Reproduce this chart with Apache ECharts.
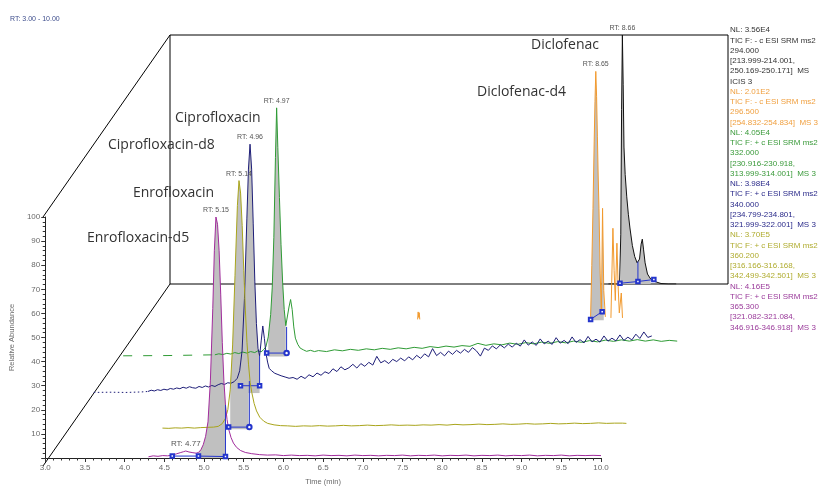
<!DOCTYPE html>
<html lang="en">
<head>
<meta charset="UTF-8">
<title>SRM chromatograms</title>
<script src="https://cdn.jsdelivr.net/npm/echarts/dist/echarts.min.js"></script>
<style>
    html, body { margin: 0; padding: 0; background: #fff; }
    #main { width: 819px; height: 491px; }
</style>
</head>
<body>
<div id="main"></div>
<script>
// ---- data (time in min, relative abundance in %) ----
// Diclofenac 294.000
var diclo = [[8.50,0],[8.60,0],[8.64,0.3],[8.655,20],[8.665,70],[8.675,100],[8.685,80],[8.695,55],[8.71,44],[8.73,35],[8.75,28],[8.77,22.5],[8.80,15.5],[8.83,11],[8.86,8.5],[8.89,10],[8.91,16],[8.925,18],[8.94,14],[8.96,8.5],[8.99,4],[9.03,2],[9.08,1],[9.16,0.2],[9.25,0],[9.35,0]];
// Diclofenac-d4 296.500 (only the non-zero stretches are drawn)
var dicloD4Blip = [[6.425,0.4],[6.432,3.4],[6.438,1.2],[6.445,3.1],[6.452,0.4]];
var dicloD4Main = [[8.58,0.6],[8.595,1.5],[8.61,22],[8.625,45],[8.64,72],[8.65,88],[8.66,100],[8.67,90],[8.68,74],[8.69,58],[8.70,45],[8.715,19],[8.73,3],[8.745,45],[8.76,12],[8.78,1.4]];
var dicloD4Tail = [[8.85,1.0],[8.875,37],[8.89,20],[8.905,8],[8.925,31],[8.94,14],[8.955,3],[8.98,11],[8.995,1.0]];
// Ciprofloxacin 332.000
var ciproLead = [[3.05,0.4],[3.60,0.5],[4.20,0.8]];
var cipro = [[4.20,0.8],[4.25,1.2],[4.30,0.9],[4.35,1.4],[4.40,1.1],[4.45,1.7],[4.50,1.3],[4.55,1.9],[4.60,1.5],[4.65,2.1],[4.70,1.7],[4.74,2.4],[4.78,2.0],[4.81,2.8],[4.84,4],[4.87,8],[4.90,17],[4.92,28],[4.94,48],[4.96,80],[4.975,100],[4.99,84],[5.01,64],[5.03,45],[5.05,30],[5.07,19],[5.09,12.5],[5.11,12],[5.13,20],[5.15,23],[5.17,19],[5.19,12],[5.21,7.5],[5.24,5],[5.27,3.5],[5.31,2.8],[5.35,2.2],[5.40,2.6],[5.45,2.1],[5.50,2.5],
    [5.60,2.1],[5.70,2.8],[5.80,2.4],[5.90,3.0],[6.00,2.6],[6.10,3.2],[6.20,2.8],[6.30,3.4],[6.40,3.0],[6.50,3.6],[6.60,3.2],[6.70,3.8],[6.80,3.4],[6.90,4.1],[7.00,3.7],[7.10,4.3],[7.20,3.9],[7.30,4.5],[7.40,4.2],[7.50,5.4],[7.60,4.6],[7.70,5.2],[7.80,4.8],[7.90,5.5],[8.00,5.0],[8.10,5.7],[8.20,5.2],[8.30,5.9],[8.40,5.4],[8.50,6.1],[8.60,5.6],[8.70,6.3],[8.80,5.8],[8.90,6.5],[9.00,6.0],[9.10,6.7],[9.20,6.2],[9.30,6.8],[9.40,6.3],[9.50,6.9],[9.60,6.3],[9.70,6.8],[9.80,6.2],[9.90,6.6],[10.00,6.3]];
// Ciprofloxacin-d8 340.000
var ciproD8Lead = [[3.00,0.3],[3.20,0.4],[3.40,0.3],[3.60,0.5],[3.68,0.7]];
var ciproD8 = [[3.68,0.7],[3.72,1.2],[3.76,0.9],[3.80,1.4],[3.84,1.1],[3.88,1.6],[3.92,1.3],[3.96,1.9],[4.00,1.6],[4.04,2.1],[4.08,1.8],[4.12,2.4],[4.16,2.0],[4.20,2.6],[4.24,2.2],[4.28,2.0],[4.32,2.7],[4.36,2.3],[4.40,2.9],[4.44,2.5],[4.48,3.1],[4.52,2.7],[4.56,3.4],[4.60,3.9],[4.64,3.5],[4.68,4.2],[4.72,4.0],[4.76,4.6],[4.80,6],[4.83,9],[4.86,17],[4.89,38],[4.92,70],[4.94,90],[4.96,100],[4.98,90],[5.00,68],[5.02,45],[5.04,28],[5.06,18],[5.08,15],[5.10,21],[5.12,27],[5.14,22],[5.16,16],[5.18,12.5],[5.20,10],[5.23,9],[5.27,8],[5.31,7.5],[5.35,7],[5.40,6.5],[5.45,6.0],
    [5.50,6.3],[5.55,5.6],[5.60,6.8],[5.65,5.9],[5.70,7.4],[5.75,6.6],[5.80,8.1],[5.85,7.2],[5.90,8.6],[5.95,7.9],[6.00,9.8],[6.05,8.7],[6.10,10.6],[6.15,9.4],[6.20,10.2],[6.25,11.6],[6.30,10.1],[6.35,11.9],[6.40,10.8],[6.45,12.4],[6.50,11.3],[6.55,14.8],[6.60,12.2],[6.65,13.1],[6.70,11.9],[6.75,13.6],[6.80,12.7],[6.85,14.1],[6.90,13.0],[6.95,14.6],[7.00,13.4],[7.05,15.2],[7.10,14.0],[7.15,15.8],[7.20,14.6],[7.25,17.9],[7.30,15.1],[7.35,16.4],[7.40,15.0],[7.45,16.9],[7.50,15.6],[7.55,17.2],[7.60,16.1],[7.65,17.6],[7.70,16.4],[7.75,18.3],[7.80,17.0],[7.85,14.9],[7.90,18.1],[7.95,17.2],[8.00,19.0],[8.05,17.8],[8.10,19.4],[8.15,18.2],[8.20,19.7],[8.25,18.5],[8.30,20.1],[8.35,18.9],[8.40,21.4],[8.45,19.3],[8.50,20.6],[8.55,19.2],[8.60,21.8],[8.65,19.8],[8.70,20.9],[8.75,19.6],[8.80,22.3],[8.85,20.1],[8.90,21.2],[8.95,19.9],[9.00,22.6],[9.05,20.4],[9.10,21.5],[9.15,20.2],[9.20,22.8],[9.25,20.6],[9.30,21.7],[9.35,20.5],[9.40,23.0],[9.45,20.9],[9.50,22.1],[9.55,21.0],[9.60,23.4],[9.65,21.2],[9.70,22.5],[9.75,21.4],[9.80,23.7],[9.85,22.0],[9.90,24.6],[9.95,22.4],[10.00,23.0]];
// Enrofloxacin 360.200
var enro = [[4.18,0.6],[4.26,0.5],[4.34,0.7],[4.42,0.6],[4.50,0.8],[4.58,0.6],[4.66,0.8],[4.74,0.9],[4.82,1.0],[4.88,1.3],[4.93,2.4],[4.97,4.5],[5.00,8],[5.03,16],[5.06,34],[5.09,62],[5.12,90],[5.14,100],[5.16,95],[5.18,82],[5.20,64],[5.22,48],[5.24,35],[5.26,26],[5.28,19],[5.30,15],[5.33,10.5],[5.36,7.5],[5.40,5],[5.45,3.4],[5.50,2.5],[5.58,1.9],[5.66,1.6],[5.75,1.5],[5.85,1.3],[5.95,1.5],[6.05,1.4],[6.15,1.6],[6.25,1.4],[6.35,1.5],[6.45,1.7],[6.55,1.5],[6.65,1.6],[6.75,1.8],[6.85,1.6],[6.95,1.7],[7.05,1.9],[7.15,1.7],[7.25,1.8],[7.35,1.7],[7.45,1.9],[7.55,1.8],[7.65,2.0],[7.75,1.8],[7.85,2.1],[7.95,1.9],[8.05,2.0],[8.15,2.2],[8.25,2.0],[8.35,2.1],[8.45,2.3],[8.55,2.1],[8.65,2.2],[8.75,2.4],[8.85,2.2],[8.95,2.3],[9.05,2.5],[9.15,2.3],[9.25,2.4],[9.35,2.6],[9.45,2.4],[9.55,2.5],[9.65,2.7],[9.75,2.5],[9.85,2.6],[9.95,2.6],[10.00,2.5]];
// Enrofloxacin-d5 365.300
var enroD5 = [[4.30,0.5],[4.36,0.9],[4.42,0.7],[4.48,1.0],[4.54,0.9],[4.60,1.2],[4.65,1.7],[4.70,2.2],[4.74,2.6],[4.77,2.9],[4.81,2.5],[4.86,2.2],[4.90,2.0],[4.93,2.3],[4.96,3.4],[4.99,5.5],[5.02,9],[5.05,15],[5.08,32],[5.11,62],[5.13,86],[5.15,100],[5.17,97],[5.19,86],[5.21,68],[5.23,48],[5.25,32],[5.27,22],[5.29,16],[5.31,12],[5.34,8.5],[5.37,6.2],[5.41,4.4],[5.46,3.1],[5.52,2.3],[5.60,1.8],[5.70,1.4],[5.80,1.2],[5.90,1.3],[6.00,1.0],[6.10,1.2],[6.20,1.0],[6.30,1.1],[6.40,0.9],[6.50,1.2],[6.60,1.0],[6.70,1.1],[6.80,0.9],[6.90,1.2],[7.00,1.0],[7.10,1.1],[7.20,0.9],[7.30,1.1],[7.40,1.0],[7.50,1.2],[7.60,0.9],[7.70,1.1],[7.80,1.0],[7.90,1.2],[8.00,0.9],[8.10,1.1],[8.20,1.0],[8.30,1.2],[8.40,0.9],[8.50,1.1],[8.60,1.0],[8.70,1.2],[8.80,0.9],[8.90,1.1],[9.00,1.0],[9.10,1.2],[9.20,0.9],[9.30,1.1],[9.40,1.0],[9.50,1.2],[9.60,0.9],[9.70,1.1],[9.80,1.0],[9.90,1.1],[10.00,1.0]];

// integration boundaries: [time, baseline level, trace level at the boundary (vertical drop) or null]
var dicloInteg = [[8.645,0.3,null],[8.87,1.0,9],[9.07,1.8,null]];
var dicloD4Integ = [[8.595,0.4,null],[8.74,3.5,null]];
var ciproInteg = [[4.85,1.5,null],[5.10,1.5,12]];
var ciproD8Integ = [[4.84,3,null],[5.08,3,15]];
var enroInteg = [[5.01,1.0,null],[5.27,1.0,19.5]];
var enroD5Integ = [[4.60,0.8,null],[4.93,0.8,null],[5.27,0.6,22]];

// grey (integrated) ranges
var dicloArea = [8.645, 9.07];
var dicloD4Area = [8.58, 8.76];
var ciproArea = [4.85, 5.10];
var ciproD8Area = [4.84, 5.08];
var enroArea = [5.01, 5.27];
var enroD5Area = [4.93, 5.27];

// retention time labels
var rtLabels = ['RT: 8.66', 'RT: 8.65', 'RT: 4.97', 'RT: 4.96', 'RT: 5.14', 'RT: 5.15'];
var minorPeak = [4.77, 2.9, 'RT: 4.77'];

var compoundNames = ['Diclofenac', 'Diclofenac-d4', 'Ciprofloxacin', 'Ciprofloxacin-d8', 'Enrofloxacin', 'Enrofloxacin-d5'];

var legendText = [
    ['NL: 3.56E4', 'TIC F: - c ESI SRM ms2', '294.000', '[213.999-214.001,', '250.169-250.171]  MS', 'ICIS 3'],
    ['NL: 2.01E2', 'TIC F: - c ESI SRM ms2', '296.500', '[254.832-254.834]  MS 3'],
    ['NL: 4.05E4', 'TIC F: + c ESI SRM ms2', '332.000', '[230.916-230.918,', '313.999-314.001]  MS 3'],
    ['NL: 3.98E4', 'TIC F: + c ESI SRM ms2', '340.000', '[234.799-234.801,', '321.999-322.001]  MS 3'],
    ['NL: 3.70E5', 'TIC F: + c ESI SRM ms2', '360.200', '[316.166-316.168,', '342.499-342.501]  MS 3'],
    ['NL: 4.16E5', 'TIC F: + c ESI SRM ms2', '365.300', '[321.082-321.084,', '346.916-346.918]  MS 3']
];

// ---- layout ----
var L0 = 43, T0 = 217, W = 558, H = 249, DX = 127, DY = 182, LAYERS = 5;
var BLUE = '#2435cc', GREY = '#c0c0c0';

// back (k=5) to front (k=0)
var traces = [
    { k: 5, color: '#111111', text: '#333333', lines: [diclo], main: diclo, area: dicloArea, integ: dicloInteg },
    { k: 4, color: '#f29a2e', text: '#f0a040', lines: [dicloD4Blip, dicloD4Main, dicloD4Tail], main: dicloD4Main, area: dicloD4Area, integ: dicloD4Integ },
    { k: 3, color: '#2f9b35', text: '#3a9a3a', lines: [cipro], lead: ciproLead, leadType: [9, 11], main: cipro, area: ciproArea, integ: ciproInteg, endMark: 'emptyCircle' },
    { k: 2, color: '#1e1e78', text: '#2a2a8a', lines: [ciproD8], lead: ciproD8Lead, leadType: [1.5, 2.5], main: ciproD8, area: ciproD8Area, integ: ciproD8Integ },
    { k: 1, color: '#a9a51c', text: '#b0ac30', lines: [enro], main: enro, area: enroArea, integ: enroInteg, endMark: 'emptyCircle' },
    { k: 0, color: '#a12c9c', text: '#9a3a9a', lines: [enroD5], main: enroD5, area: enroD5Area, integ: enroD5Integ, minor: minorPeak }
];

var grids = [], xAxes = [], yAxes = [], series = [];
for (var k = 0; k <= LAYERS; k++) {
    grids.push({
        left: L0 + DX * k / LAYERS, top: T0 - DY * k / LAYERS, width: W, height: H,
        show: k === LAYERS, borderColor: '#000', borderWidth: 1, backgroundColor: 'transparent'
    });
    if (k === 0) {
        xAxes.push({
            gridIndex: 0, type: 'value', min: 3, max: 10, interval: 0.5,
            axisLine: { lineStyle: { color: '#222', width: 1 } },
            axisTick: { length: 4, lineStyle: { color: '#333' } },
            minorTick: { show: true, splitNumber: 5, length: 2.5, lineStyle: { color: '#333' } },
            splitLine: { show: false },
            axisLabel: { formatter: function (v) { return v.toFixed(1); }, color: '#6a6a6a', fontSize: 8, margin: 6, fontFamily: 'Liberation Sans' },
            name: 'Time (min)', nameLocation: 'middle', nameGap: 20,
            nameTextStyle: { color: '#6a6a6a', fontSize: 7.5, fontFamily: 'Liberation Sans' }
        });
        yAxes.push({
            gridIndex: 0, type: 'value', min: 0, max: 100, interval: 10,
            axisLine: { show: true, lineStyle: { color: '#222', width: 1 } },
            axisTick: { show: true, length: 4, lineStyle: { color: '#333' } },
            minorTick: { show: true, splitNumber: 5, length: 2.5, lineStyle: { color: '#333' } },
            splitLine: { show: false },
            axisLabel: { formatter: function (v) { return v === 0 ? '' : String(v); }, color: '#6a6a6a', fontSize: 8, margin: 5, fontFamily: 'Liberation Sans' },
            name: 'Relative Abundance', nameLocation: 'middle', nameGap: 24, nameRotate: 90,
            nameTextStyle: { color: '#6a6a6a', fontSize: 7.5, fontFamily: 'Liberation Sans' }
        });
    } else {
        xAxes.push({ gridIndex: k, type: 'value', min: 3, max: 10, show: false, splitLine: { show: false } });
        yAxes.push({ gridIndex: k, type: 'value', min: 0, max: 100, show: false, splitLine: { show: false } });
    }
}

function base(k) {
    return { type: 'line', xAxisIndex: k, yAxisIndex: k, symbol: 'none', animation: false, silent: true };
}

traces.forEach(function (tr, i) {
    var k = tr.k;
    // integrated peak area
    var a = tr.area;
    series.push(Object.assign(base(k), {
        data: tr.main.filter(function (p) { return p[0] >= a[0] && p[0] <= a[1]; }),
        lineStyle: { width: 0, opacity: 0 },
        areaStyle: { color: GREY, opacity: 1 }
    }));
    // sparse lead-in
    if (tr.lead) {
        series.push(Object.assign(base(k), {
            data: tr.lead, lineStyle: { color: tr.color, width: 1, type: tr.leadType }
        }));
    }
    // trace
    var top = tr.main.reduce(function (m, p) { return p[1] > m[1] ? p : m; }, tr.main[0]);
    var marks = [{ coord: [top[0], top[1]], label: { formatter: rtLabels[i] } }];
    if (tr.minor) marks.push({ coord: [tr.minor[0], tr.minor[1]], label: { formatter: tr.minor[2], fontSize: 8 } });
    tr.lines.forEach(function (seg) {
        var s = Object.assign(base(k), { data: seg, lineStyle: { color: tr.color, width: 1 } });
        if (seg === tr.main) {
            s.markPoint = {
                symbol: 'circle', symbolSize: 1, itemStyle: { color: 'rgba(0,0,0,0)' }, silent: true,
                label: { show: true, position: 'top', distance: 3, color: '#555', fontSize: 7, fontFamily: 'Liberation Sans' },
                data: marks
            };
        }
        series.push(s);
    });
    // integration baseline with markers
    var n = tr.integ.length;
    series.push(Object.assign(base(k), {
        symbol: 'emptyRect', symbolSize: 3.5, showSymbol: true,
        itemStyle: { color: BLUE, borderWidth: 1 },
        lineStyle: { color: BLUE, width: 1 },
        data: tr.integ.map(function (p, j) {
            var d = { value: [p[0], p[1]] };
            if (j === n - 1 && tr.endMark) { d.symbol = tr.endMark; d.symbolSize = 4.5; }
            return d;
        })
    }));
    tr.integ.forEach(function (p) {
        if (p[2] !== null) {
            series.push(Object.assign(base(k), {
                data: [[p[0], p[1]], [p[0], p[2]]], lineStyle: { color: BLUE, width: 1 }
            }));
        }
    });
});

// frame diagonals, names, legend
var graphic = [
    { type: 'line', shape: { x1: L0, y1: T0, x2: L0 + DX, y2: T0 - DY }, style: { stroke: '#000', lineWidth: 1 }, silent: true },
    { type: 'line', shape: { x1: L0, y1: T0 + H, x2: L0 + DX, y2: T0 + H - DY }, style: { stroke: '#000', lineWidth: 1 }, silent: true },
    { type: 'text', left: 10, top: 16, style: { text: 'RT: 3.00 - 10.00', fill: '#3d4d8c', font: '7px "Liberation Sans"' }, silent: true }
];
var namePos = [[531, 45], [477, 92], [175, 118], [108, 145], [133, 193], [87, 238]];
compoundNames.forEach(function (nm, i) {
    graphic.push({
        type: 'text', x: namePos[i][0], y: namePos[i][1], z: 10, silent: true,
        style: { text: nm, fill: '#333', font: '14px "Open Sans"', textVerticalAlign: 'middle' }
    });
});
var line = 0, LH = 10.25;
legendText.forEach(function (block, i) {
    graphic.push({
        type: 'text', x: L0 + DX + W + 2, y: 25 + line * LH, silent: true,
        style: { text: block.join('\n'), fill: traces[i].text, font: '8px "Liberation Sans"', lineHeight: LH, textVerticalAlign: 'top' }
    });
    line += block.length;
});

var chart = echarts.init(document.getElementById('main'), null, { renderer: 'canvas' });
chart.setOption({
    animation: false,
    backgroundColor: '#fff',
    grid: grids, xAxis: xAxes, yAxis: yAxes,
    series: series,
    graphic: graphic
});
</script>
</body>
</html>
